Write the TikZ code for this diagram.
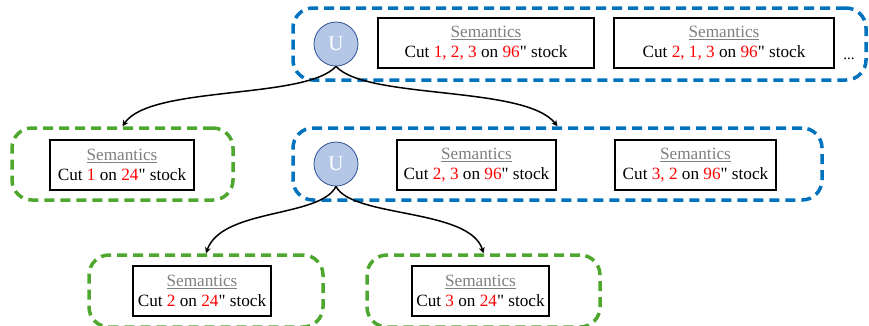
\documentclass[tikz,border=0pt]{standalone}
\usepackage{fontspec}
\setmainfont{Liberation Serif}[Ligatures=TeXOff]
\usetikzlibrary{arrows.meta}
\definecolor{grpblue}{RGB}{0,114,190}
\definecolor{grpgreen}{RGB}{78,167,46}
\definecolor{ufill}{RGB}{180,199,231}
\definecolor{uedge}{RGB}{47,82,143}
\definecolor{semgray}{RGB}{128,128,128}
\newcommand{\semtext}[1]{{\color{semgray}\underline{Semantics}}\\#1}
\newcommand{\rd}[1]{\textcolor{red}{#1}}
\begin{document}
\begin{tikzpicture}[x=1pt,y=-1pt,
  grp/.style={draw, dashed, dash pattern=on 10pt off 6pt, line width=3.5pt, rounded corners=20pt,
    minimum height=72pt, inner sep=0pt},
  bluegrp/.style={grp, draw=grpblue},
  greengrp/.style={grp, draw=grpgreen},
  sembox/.style={draw=black, line width=1.5pt, minimum height=50pt, inner xsep=2pt, inner ysep=2pt,
    align=center, font=\fontsize{17.2}{20}\selectfont, fill=white},
  unode/.style={circle, draw=uedge, line width=0.8pt, fill=ufill, minimum size=44pt, inner sep=0pt,
    text=white, font=\fontsize{21}{24}\selectfont},
  arr/.style={draw=black, line width=1.5pt, -{Stealth[length=6pt,width=6pt]}}]
\useasboundingbox (0,0) rectangle (869,325);
% groups
\node[bluegrp, minimum width=573pt] (g0) at (579.5,44) {};
\node[greengrp, minimum width=221pt] (g1) at (122.5,164) {};
\node[bluegrp, minimum width=529pt] (g2) at (557.5,164) {};
\node[greengrp, minimum width=234pt] (g3) at (206,291) {};
\node[greengrp, minimum width=233pt] (g4) at (483.5,291) {};
% U nodes
\node[unode] (u0) at (336,44) {U};
\node[unode] (u1) at (336,164) {U};
% semantic boxes
\node[sembox, minimum width=216pt] (t1) at (486,43) {\semtext{Cut \rd{1, 2, 3} on \rd{96}" stock}};
\node[sembox, minimum width=220pt] (t2) at (724,43) {\semtext{Cut \rd{2, 1, 3} on \rd{96}" stock}};
\node[font=\fontsize{15}{17}\selectfont, inner sep=0pt] (dots) at (849,59) {...};
\node[sembox, minimum width=144pt] (m1) at (122,165) {\semtext{Cut \rd{1} on \rd{24}" stock}};
\node[sembox, minimum width=159pt] (m2) at (476.5,165) {\semtext{Cut \rd{2, 3} on \rd{96}" stock}};
\node[sembox, minimum width=161pt] (m3) at (695.5,165) {\semtext{Cut \rd{3, 2} on \rd{96}" stock}};
\node[sembox, minimum width=138pt] (b1) at (202,291) {\semtext{Cut \rd{2} on \rd{24}" stock}};
\node[sembox, minimum width=137pt] (b2) at (480.5,291) {\semtext{Cut \rd{3} on \rd{24}" stock}};
% arrows
\draw[arr] (u0.south) .. controls (305,100) and (150,85) .. (g1.north);
\draw[arr] (u0.south) .. controls (367,100) and (525,85) .. (g2.north);
\draw[arr] (u1.south) .. controls (320,218) and (222,208) .. (g3.north);
\draw[arr] (u1.south) .. controls (352,218) and (470,208) .. (g4.north);
\end{tikzpicture}
\end{document}
